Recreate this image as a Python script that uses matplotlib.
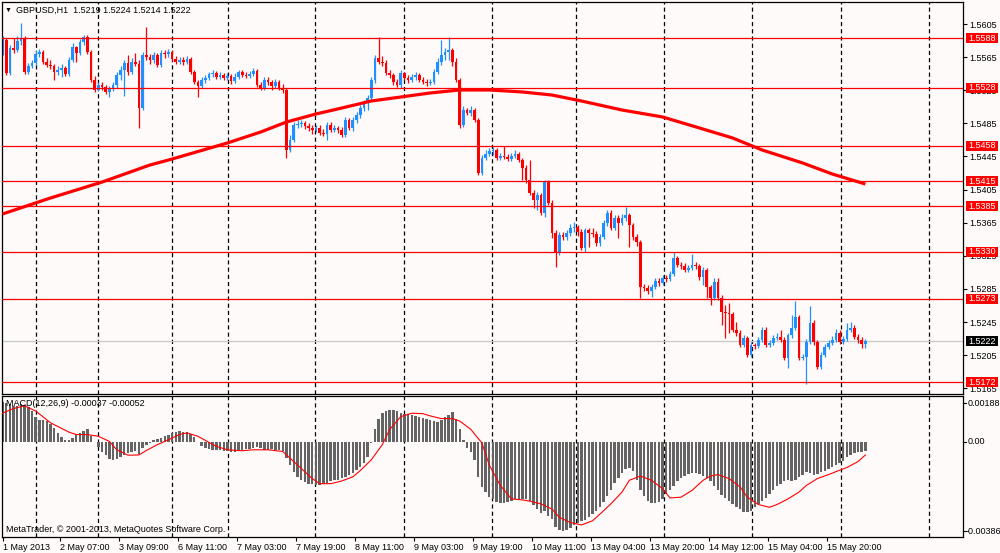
import matplotlib
matplotlib.use("Agg")
import matplotlib.pyplot as plt
from matplotlib.patches import Rectangle
from matplotlib.lines import Line2D
import numpy as np

plt.rcParams['font.family'] = ['Liberation Sans', 'DejaVu Sans']
plt.rcParams['lines.scale_dashes'] = False

# ---------------- data ----------------
symbol_title = "GBPUSD,H1  1.5219 1.5224 1.5214 1.5222"
macd_title = "MACD(12,26,9) -0.00037 -0.00052"
copyright_text = "MetaTrader, \u00a9 2001-2013, MetaQuotes Software Corp."

first_open = 1.5570
closes = [
    1.5586, 1.5546, 1.5576, 1.5574, 1.5584, 1.5588, 1.5547, 1.5554, 1.5558, 1.5569,
    1.5571, 1.5559, 1.5556, 1.5554, 1.5547, 1.5549, 1.5552, 1.5545, 1.5562, 1.5577,
    1.5570, 1.5583, 1.5589, 1.5571, 1.5537, 1.5525, 1.5531, 1.5529, 1.5523, 1.5527,
    1.5531, 1.5543, 1.5549, 1.5558, 1.5547, 1.5559, 1.5557, 1.5504, 1.5568, 1.5565,
    1.5562, 1.5568, 1.5556, 1.5570, 1.5569, 1.5571, 1.5563, 1.5559, 1.5562, 1.5559,
    1.5563, 1.5547, 1.5535, 1.5530, 1.5537, 1.5540, 1.5545, 1.5546, 1.5541, 1.5543,
    1.5540, 1.5542, 1.5536, 1.5541, 1.5547, 1.5543, 1.5542, 1.5545, 1.5548, 1.5531,
    1.5528, 1.5537, 1.5535, 1.5530, 1.5535, 1.5528, 1.5525, 1.5453, 1.5465, 1.5483,
    1.5484, 1.5485, 1.5482, 1.5479, 1.5477, 1.5479, 1.5473, 1.5472, 1.5483, 1.5477,
    1.5479, 1.5477, 1.5471, 1.5489, 1.5479, 1.5489, 1.5495, 1.5504, 1.5510, 1.5516,
    1.5537, 1.5564, 1.5559, 1.5558, 1.5546, 1.5543, 1.5535, 1.5531, 1.5546, 1.5540,
    1.5537, 1.5541, 1.5543, 1.5537, 1.5535, 1.5534, 1.5535, 1.5547, 1.5559, 1.5568,
    1.5571, 1.5574, 1.5559, 1.5537, 1.5483, 1.5501, 1.5498, 1.5501, 1.5489, 1.5425,
    1.5443, 1.5448, 1.5452, 1.5453, 1.5443, 1.5446, 1.5444, 1.5442, 1.5446, 1.5448,
    1.5441, 1.5431, 1.5417, 1.5401, 1.5392, 1.5398, 1.5377, 1.5414, 1.5389, 1.5353,
    1.5328, 1.5350, 1.5348, 1.5353, 1.5359, 1.5360, 1.5354, 1.5334, 1.5356, 1.5353,
    1.5351, 1.5341, 1.5348, 1.5365, 1.5377, 1.5359, 1.5371, 1.5365, 1.5371, 1.5374,
    1.5362, 1.5348, 1.5342, 1.5287, 1.5286, 1.5282, 1.5287, 1.5295, 1.5292, 1.5298,
    1.5297, 1.5303, 1.5322, 1.5314, 1.5313, 1.5308, 1.5310, 1.5314, 1.5313, 1.5299,
    1.5308, 1.5287, 1.5274, 1.5293, 1.5274, 1.5257, 1.5256, 1.5255, 1.5235, 1.5232,
    1.5217, 1.5226, 1.5205, 1.5217, 1.5216, 1.5223, 1.5235, 1.5217, 1.5220, 1.5226,
    1.5227, 1.5223, 1.5202, 1.5229, 1.5238, 1.5251, 1.5202, 1.5203, 1.5221, 1.5244,
    1.5221, 1.5191, 1.5205, 1.5215, 1.5220, 1.5223, 1.5232, 1.5221, 1.5225, 1.5235,
    1.5238, 1.5227, 1.5223, 1.5219, 1.5222]
highs = [
    1.5590, 1.5588, 1.5580, 1.5588, 1.5590, 1.5606, 1.5590, 1.5558, 1.5562, 1.5574,
    1.5575, 1.5574, 1.5564, 1.5562, 1.5557, 1.5554, 1.5557, 1.5554, 1.5565, 1.5582,
    1.5578, 1.5587, 1.5592, 1.5592, 1.5574, 1.5542, 1.5535, 1.5535, 1.5531, 1.5530,
    1.5535, 1.5547, 1.5554, 1.5562, 1.5568, 1.5564, 1.5570, 1.5562, 1.5571, 1.5601,
    1.5569, 1.5571, 1.5570, 1.5574, 1.5574, 1.5575, 1.5574, 1.5566, 1.5565, 1.5565,
    1.5566, 1.5565, 1.5549, 1.5537, 1.5541, 1.5543, 1.5547, 1.5549, 1.5548, 1.5547,
    1.5546, 1.5546, 1.5545, 1.5546, 1.5549, 1.5549, 1.5547, 1.5548, 1.5552, 1.5551,
    1.5535, 1.5541, 1.5541, 1.5537, 1.5539, 1.5537, 1.5533, 1.5528, 1.5471, 1.5487,
    1.5489, 1.5489, 1.5488, 1.5485, 1.5483, 1.5483, 1.5483, 1.5478, 1.5487, 1.5487,
    1.5483, 1.5482, 1.5481, 1.5493, 1.5491, 1.5493, 1.5499, 1.5507, 1.5513, 1.5519,
    1.5541, 1.5568, 1.5589, 1.5566, 1.5562, 1.5549, 1.5546, 1.5539, 1.5549, 1.5547,
    1.5543, 1.5545, 1.5547, 1.5546, 1.5541, 1.5539, 1.5539, 1.5551, 1.5564, 1.5586,
    1.5576, 1.5589, 1.5576, 1.5564, 1.5540, 1.5506, 1.5504, 1.5506, 1.5504, 1.5491,
    1.5447, 1.5453, 1.5455, 1.5456, 1.5455, 1.5449, 1.5458, 1.5448, 1.5449, 1.5453,
    1.5450, 1.5443, 1.5435, 1.5441, 1.5405, 1.5402, 1.5401, 1.5417, 1.5417, 1.5392,
    1.5356, 1.5354, 1.5354, 1.5356, 1.5363, 1.5366, 1.5362, 1.5357, 1.5359, 1.5359,
    1.5359, 1.5355, 1.5351, 1.5368, 1.5380, 1.5380, 1.5374, 1.5374, 1.5376, 1.5384,
    1.5377, 1.5365, 1.5351, 1.5344, 1.5291, 1.5290, 1.5291, 1.5298, 1.5298, 1.5302,
    1.5302, 1.5307, 1.5330, 1.5325, 1.5318, 1.5316, 1.5314, 1.5327, 1.5318, 1.5315,
    1.5311, 1.5310, 1.5290, 1.5298, 1.5298, 1.5278, 1.5266, 1.5268, 1.5257, 1.5245,
    1.5235, 1.5229, 1.5228, 1.5221, 1.5220, 1.5227, 1.5239, 1.5239, 1.5223, 1.5229,
    1.5232, 1.5235, 1.5227, 1.5232, 1.5253, 1.5270, 1.5253, 1.5206, 1.5225, 1.5264,
    1.5247, 1.5223, 1.5209, 1.5219, 1.5223, 1.5228, 1.5237, 1.5235, 1.5228, 1.5244,
    1.5245, 1.5241, 1.5231, 1.5227, 1.5224]
lows = [
    1.5568, 1.5543, 1.5543, 1.5570, 1.5571, 1.5580, 1.5545, 1.5545, 1.5552, 1.5556,
    1.5565, 1.5557, 1.5553, 1.5551, 1.5537, 1.5543, 1.5541, 1.5542, 1.5542, 1.5559,
    1.5559, 1.5568, 1.5580, 1.5569, 1.5535, 1.5523, 1.5524, 1.5525, 1.5520, 1.5517,
    1.5524, 1.5528, 1.5537, 1.5518, 1.5543, 1.5545, 1.5554, 1.5479, 1.5501, 1.5562,
    1.5557, 1.5558, 1.5553, 1.5553, 1.5564, 1.5565, 1.5560, 1.5557, 1.5557, 1.5556,
    1.5557, 1.5545, 1.5533, 1.5517, 1.5528, 1.5534, 1.5537, 1.5541, 1.5539, 1.5539,
    1.5537, 1.5537, 1.5533, 1.5534, 1.5539, 1.5541, 1.5540, 1.5540, 1.5542, 1.5529,
    1.5525, 1.5525, 1.5531, 1.5525, 1.5528, 1.5525, 1.5522, 1.5443, 1.5450, 1.5462,
    1.5479, 1.5481, 1.5478, 1.5476, 1.5472, 1.5475, 1.5471, 1.5470, 1.5465, 1.5475,
    1.5475, 1.5473, 1.5469, 1.5469, 1.5477, 1.5476, 1.5485, 1.5491, 1.5500, 1.5501,
    1.5513, 1.5534, 1.5557, 1.5554, 1.5543, 1.5540, 1.5531, 1.5529, 1.5528, 1.5537,
    1.5534, 1.5535, 1.5537, 1.5535, 1.5533, 1.5530, 1.5531, 1.5533, 1.5545, 1.5556,
    1.5562, 1.5562, 1.5554, 1.5535, 1.5479, 1.5481, 1.5495, 1.5494, 1.5487, 1.5423,
    1.5423, 1.5441, 1.5446, 1.5447, 1.5441, 1.5441, 1.5442, 1.5440, 1.5440, 1.5443,
    1.5438, 1.5417, 1.5413, 1.5398, 1.5383, 1.5380, 1.5374, 1.5372, 1.5386, 1.5347,
    1.5311, 1.5326, 1.5344, 1.5344, 1.5349, 1.5354, 1.5349, 1.5332, 1.5330, 1.5336,
    1.5348, 1.5337, 1.5337, 1.5345, 1.5361, 1.5356, 1.5356, 1.5347, 1.5362, 1.5367,
    1.5336, 1.5344, 1.5337, 1.5274, 1.5282, 1.5279, 1.5275, 1.5285, 1.5289, 1.5290,
    1.5293, 1.5295, 1.5301, 1.5311, 1.5309, 1.5305, 1.5305, 1.5308, 1.5309, 1.5296,
    1.5290, 1.5274, 1.5266, 1.5272, 1.5272, 1.5241, 1.5226, 1.5232, 1.5233, 1.5228,
    1.5215, 1.5215, 1.5203, 1.5203, 1.5212, 1.5214, 1.5221, 1.5215, 1.5215, 1.5217,
    1.5223, 1.5221, 1.5199, 1.5190, 1.5226, 1.5235, 1.5199, 1.5199, 1.5170, 1.5219,
    1.5217, 1.5188, 1.5188, 1.5203, 1.5212, 1.5217, 1.5221, 1.5219, 1.5219, 1.5222,
    1.5233, 1.5225, 1.5220, 1.5214, 1.5214]

# moving average line read at sample bars
ma_bars = [0, 13, 27, 40, 46, 61, 70, 77, 85, 92, 100, 108, 116, 124, 132, 141,
           149, 157, 168, 179, 189, 198, 206, 217, 225, 234]
ma_values = [1.53755, 1.53948, 1.54141, 1.54347, 1.54419, 1.54613, 1.54745, 1.54866,
             1.54963, 1.55035, 1.55120, 1.55168, 1.55217, 1.55253, 1.55253, 1.55229,
             1.55192, 1.55120, 1.55011, 1.54927, 1.54794, 1.54673, 1.54528, 1.54371,
             1.54238, 1.54117]

level_lines = [1.5588, 1.5528, 1.5458, 1.5415, 1.5385, 1.5330, 1.5273, 1.5172]
last_price = 1.5222
price_ticks = [1.5605, 1.5565, 1.5525, 1.5485, 1.5445, 1.5405, 1.5365, 1.5325,
               1.5285, 1.5245, 1.5205, 1.5165]

macd_hist = [
    0.00162, 0.00159, 0.00154, 0.00148, 0.00149, 0.00154, 0.00152, 0.00145, 0.00126, 0.00104,
    0.00092, 0.00090, 0.00086, 0.00074, 0.00057, 0.00038, 0.00021, 0.00010, 0.00008, 0.00017,
    0.00030, 0.00038, 0.00045, 0.00052, 0.00027, 0.00002, -0.00021, -0.00038, -0.00053, -0.00067,
    -0.00072, -0.00070, -0.00061, -0.00053, -0.00045, -0.00038, -0.00035, -0.00048, -0.00024, -0.00012,
    -0.00003, 0.00008, 0.00013, 0.00019, 0.00024, 0.00031, 0.00038, 0.00043, 0.00045, 0.00042,
    0.00041, 0.00035, 0.00021, 0.00002, -0.00014, -0.00023, -0.00027, -0.00030, -0.00031, -0.00032,
    -0.00035, -0.00036, -0.00038, -0.00038, -0.00035, -0.00031, -0.00028, -0.00027, -0.00024, -0.00021,
    -0.00025, -0.00030, -0.00030, -0.00028, -0.00031, -0.00032, -0.00036, -0.00063, -0.00093, -0.00120,
    -0.00141, -0.00155, -0.00162, -0.00169, -0.00171, -0.00173, -0.00173, -0.00171, -0.00166, -0.00159,
    -0.00155, -0.00152, -0.00145, -0.00141, -0.00134, -0.00125, -0.00114, -0.00100, -0.00083, -0.00061,
    -0.00003, 0.00054, 0.00093, 0.00120, 0.00127, 0.00130, 0.00130, 0.00125, 0.00120, 0.00116,
    0.00114, 0.00109, 0.00107, 0.00101, 0.00097, 0.00093, 0.00089, 0.00085, 0.00084, 0.00092,
    0.00101, 0.00110, 0.00123, 0.00093, 0.00052, 0.00010, -0.00024, -0.00042, -0.00072, -0.00141,
    -0.00182, -0.00203, -0.00224, -0.00232, -0.00244, -0.00247, -0.00247, -0.00243, -0.00238, -0.00233,
    -0.00231, -0.00231, -0.00232, -0.00240, -0.00254, -0.00272, -0.00290, -0.00282, -0.00300, -0.00313,
    -0.00345, -0.00357, -0.00361, -0.00356, -0.00348, -0.00337, -0.00328, -0.00322, -0.00315, -0.00304,
    -0.00293, -0.00279, -0.00262, -0.00242, -0.00218, -0.00193, -0.00166, -0.00144, -0.00125, -0.00111,
    -0.00107, -0.00116, -0.00155, -0.00193, -0.00221, -0.00240, -0.00249, -0.00249, -0.00243, -0.00231,
    -0.00210, -0.00196, -0.00180, -0.00159, -0.00147, -0.00136, -0.00129, -0.00125, -0.00125, -0.00130,
    -0.00136, -0.00144, -0.00159, -0.00180, -0.00196, -0.00213, -0.00227, -0.00238, -0.00251, -0.00265,
    -0.00273, -0.00283, -0.00286, -0.00279, -0.00265, -0.00251, -0.00239, -0.00227, -0.00210, -0.00193,
    -0.00180, -0.00169, -0.00158, -0.00155, -0.00160, -0.00152, -0.00141, -0.00133, -0.00122, -0.00125,
    -0.00132, -0.00130, -0.00123, -0.00116, -0.00109, -0.00103, -0.00094, -0.00086, -0.00075, -0.00061,
    -0.00052, -0.00045, -0.00041, -0.00039, -0.00037]

signal_bars = [0, 3, 6, 9, 13, 18, 20, 23, 26, 29, 31, 34, 37, 39, 42, 45, 48, 50, 53, 56,
               58, 61, 65, 68, 72, 76, 78, 81, 84, 86, 89, 92, 95, 97, 100, 103, 105, 108,
               111, 114, 116, 119, 122, 124, 127, 130, 132, 135, 138, 141, 143, 146, 149,
               151, 154, 157, 160, 162, 165, 168, 170, 173, 176, 179, 181, 184, 187, 190,
               192, 194, 197, 200, 202, 205, 208, 210, 213, 216, 218, 221, 224, 226, 229,
               232, 234]
signal_values = [
    0.00118, 0.00137, 0.00148, 0.00127, 0.00079, 0.00041, 0.00031, 0.00031, 0.00024, 0.00003,
    -0.00031, -0.00053, -0.00052, -0.00034, -0.00010, 0.00010, 0.00031, 0.00038, 0.00024, -0.00001,
    -0.00017, -0.00031, -0.00035, -0.00031, -0.00031, -0.00038, -0.00065, -0.00107, -0.00148, -0.00169,
    -0.00169, -0.00158, -0.00141, -0.00116, -0.00072, -0.00010, 0.00052, 0.00104, 0.00118, 0.00116,
    0.00107, 0.00096, 0.00096, 0.00086, 0.00052, -0.00003, -0.00093, -0.00176, -0.00231, -0.00235,
    -0.00240, -0.00251, -0.00272, -0.00306, -0.00327, -0.00337, -0.00320, -0.00293, -0.00251, -0.00203,
    -0.00155, -0.00138, -0.00155, -0.00189, -0.00227, -0.00224, -0.00196, -0.00155, -0.00138, -0.00132,
    -0.00148, -0.00182, -0.00224, -0.00254, -0.00265, -0.00254, -0.00231, -0.00203, -0.00176, -0.00148,
    -0.00132, -0.00120, -0.00103, -0.00079, -0.00052]
macd_top, macd_bottom = 0.00188, -0.00386

time_labels = ["1 May 2013", "2 May 07:00", "3 May 09:00", "6 May 11:00", "7 May 03:00",
               "7 May 19:00", "8 May 11:00", "9 May 03:00", "9 May 19:00", "10 May 11:00",
               "13 May 04:00", "13 May 20:00", "14 May 12:00", "15 May 04:00", "15 May 20:00"]
bars_per_label = 16
day_breaks = [9.1, 25.9, 46.0, 61.2, 84.8, 108.9, 132.7, 155.5, 179.4, 203.3, 227.4, 251.3]

# ---------------- figure ----------------
W, H = 1000, 553
BG = '#FFFAFA'
fig = plt.figure(figsize=(W / 100, H / 100), dpi=100)
fig.patch.set_facecolor(BG)


def rect(l, t, r, b):
    return [l / W, 1 - b / H, (r - l) / W, (b - t) / H]


ax = fig.add_axes(rect(2, 2, 963, 394))
axm = fig.add_axes(rect(2, 396, 963, 537))
for a in (ax, axm):
    a.set_facecolor(BG)
    for s in a.spines.values():
        s.set_color('black')
        s.set_linewidth(0.9)
    a.set_xlim(-0.136, 260.47)
    for d in day_breaks:
        a.axvline(d, color='black', lw=0.9, linestyle=(0, (3.0, 2.2)), zorder=1)

n = len(closes)
xs = np.arange(n)
opens = [first_open] + closes[:-1]
o = np.array(opens)
c = np.array(closes)
hi = np.array(highs)
lo = np.array(lows)
cols = np.where(c >= o, '#1E90FF', '#FF0000')

ax.axhline(last_price, color='#C8C8C8', lw=0.9, zorder=1.5)
ax.vlines(xs, lo, hi, colors=cols, linewidth=0.9, zorder=2)
body_bottom = np.minimum(o, c)
body_h = np.maximum(np.abs(c - o), 0.00005)
ax.bar(xs, body_h, bottom=body_bottom, width=0.72, color=cols, linewidth=0, zorder=2.5)

for lv in level_lines:
    ax.axhline(lv, color='#FF0000', lw=0.9, zorder=3)

ax.plot(ma_bars, ma_values, color='#FF0000', lw=2.3, zorder=4, solid_capstyle='butt')

ax.set_ylim(1.515805, 1.563158)
ax.set_xticks([])
ax.yaxis.tick_right()
ax.set_yticks(price_ticks)
ax.set_yticklabels([f'{p:.4f}' for p in price_ticks])
ax.tick_params(axis='y', length=3, width=0.8, pad=1.5, labelsize=6.5, direction='out')

# MACD panel
axm.bar(xs, macd_hist, width=0.66, color='#646464', linewidth=0, zorder=2)
axm.plot(signal_bars, signal_values, color='#FF0000', lw=0.8, zorder=3)
axm.set_ylim(macd_bottom, macd_top)
axm.set_yticks([])
tick_pos = [max(bars_per_label * k - 0.5, 0.1) for k in range(len(time_labels))]
axm.set_xticks(tick_pos)
axm.set_xticklabels(time_labels, ha='left')
axm.tick_params(axis='x', length=3, width=0.8, pad=1.5, labelsize=6.5, direction='out')

fig.canvas.draw()


def add_box(price, text, face):
    ydisp = ax.transData.transform((0, price))[1]
    fig.patches.append(Rectangle((966 / W, (ydisp - 5) / H), 32 / W, 10 / H,
                                 transform=fig.transFigure, facecolor=face,
                                 edgecolor='none', zorder=5))
    fig.text(982 / W, ydisp / H, text, color='white', ha='center', va='center',
             fontsize=6.5, zorder=6)


for lv in level_lines:
    add_box(lv, f'{lv:.4f}', '#FF0000')
add_box(last_price, f'{last_price:.4f}', '#000000')

# MACD scale labels
for ytxt, txt, xtxt in [(403, f'{macd_top:.5f}', 968), (442, '0.00', 968),
                        (531, f'{macd_bottom:.5f}', 966)]:
    fig.text(xtxt / W, 1 - ytxt / H, txt, ha='left', va='center', fontsize=6.5)
    fig.lines.append(Line2D([963 / W, 966 / W], [1 - ytxt / H, 1 - ytxt / H],
                            transform=fig.transFigure, color='black', lw=0.8))

# titles
fig.text(5 / W, 1 - 10 / H, '\u25bc', ha='left', va='center', fontsize=5)
fig.text(16 / W, 1 - 10 / H, symbol_title, ha='left', va='center', fontsize=6.5)
fig.text(6 / W, 1 - 404 / H, macd_title, ha='left', va='center', fontsize=6.5)
fig.text(6 / W, 1 - 530 / H, copyright_text, ha='left', va='center', fontsize=6.5)

fig.savefig('out.png', dpi=100, facecolor=BG)
